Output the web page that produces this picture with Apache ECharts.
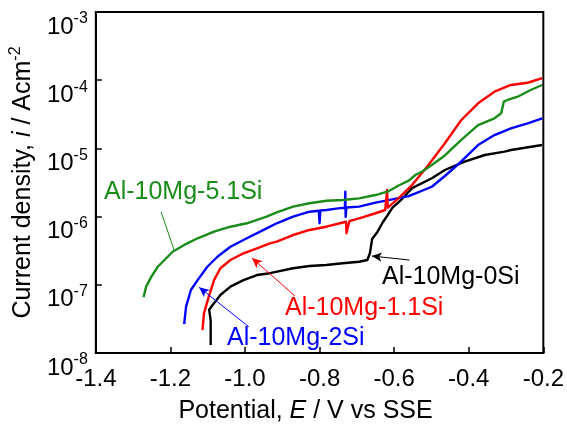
<!DOCTYPE html>
<html>
<head>
<meta charset="utf-8">
<script src="https://cdn.jsdelivr.net/npm/echarts@6/dist/echarts.min.js"></script>
<style>
  html, body { margin: 0; padding: 0; background: #fff; }
  #chart { width: 567px; height: 430px; }
</style>
</head>
<body>
<div id="chart"></div>
<script>
// Potentiodynamic polarization curves of Al-10Mg-xSi alloys
// Potential E (V vs SSE) and current density i (A/cm^2)

const xTicks = [-1.4, -1.2, -1.0, -0.8, -0.6, -0.4, -0.2];
const yTickExponents = [-8, -7, -6, -5, -4, -3];

// Al-10Mg-0Si
const E_0Si = [-1.092, -1.092, -1.096, -1.090, -1.083, -1.066, -1.039, -1.004, -0.968, -0.933,
  -0.871, -0.827, -0.782, -0.738, -0.694, -0.672, -0.665, -0.659, -0.645, -0.630,
  -0.619, -0.605, -0.579, -0.552, -0.499, -0.464, -0.411, -0.357, -0.304, -0.287, -0.203];
const i_0Si = [1.31e-8, 3.0e-8, 4.3e-8, 4.8e-8, 5.36e-8, 7.08e-8, 9.38e-8, 1.17e-7, 1.39e-7, 1.48e-7,
  1.75e-7, 1.89e-7, 1.95e-7, 2.07e-7, 2.18e-7, 2.31e-7, 2.90e-7, 4.70e-7, 5.94e-7, 8.34e-7,
  1.02e-6, 1.34e-6, 1.81e-6, 2.62e-6, 3.65e-6, 4.82e-6, 6.38e-6, 8.00e-6, 8.95e-6, 9.48e-6, 1.12e-5];

// Al-10Mg-1.1Si
const E_11Si = [-1.114, -1.110, -1.097, -1.083, -1.066, -1.039, -1.004, -0.968, -0.933, -0.915,
  -0.871, -0.827, -0.782, -0.729, -0.728, -0.726, -0.723, -0.720, -0.694, -0.650,
  -0.624, -0.620, -0.619, -0.617, -0.588, -0.552, -0.508, -0.464, -0.420, -0.375,
  -0.331, -0.287, -0.242, -0.203];
const i_11Si = [2.17e-8, 3.82e-8, 6.70e-8, 1.17e-7, 1.75e-7, 2.31e-7, 2.90e-7, 3.43e-7, 4.06e-7, 4.29e-7,
  5.37e-7, 6.37e-7, 7.11e-7, 8.41e-7, 5.7e-7, 6.0e-7, 5.8e-7, 8.6e-7, 9.44e-7, 1.12e-6,
  1.25e-6, 1.27e-6, 2.45e-6, 1.35e-6, 1.87e-6, 2.90e-6, 5.71e-6, 1.19e-5, 2.61e-5, 4.58e-5,
  6.78e-5, 8.51e-5, 9.18e-5, 1.07e-4];

// Al-10Mg-2Si
const E_2Si = [-1.163, -1.158, -1.145, -1.127, -1.101, -1.074, -1.039, -0.995, -0.942, -0.915,
  -0.871, -0.827, -0.802, -0.800, -0.798, -0.782, -0.760, -0.745, -0.732, -0.731,
  -0.730, -0.728, -0.694, -0.650, -0.605, -0.561, -0.499, -0.464, -0.420, -0.375,
  -0.331, -0.287, -0.242, -0.203];
const i_2Si = [2.66e-8, 4.78e-8, 8.39e-8, 1.17e-7, 1.84e-7, 2.58e-7, 3.62e-7, 4.81e-7, 6.73e-7, 7.98e-7,
  9.97e-7, 1.18e-6, 1.22e-6, 7.98e-7, 1.23e-6, 1.25e-6, 1.30e-6, 1.33e-6, 1.35e-6, 2.32e-6,
  9.9e-7, 1.36e-6, 1.40e-6, 1.60e-6, 1.79e-6, 2.0e-6, 2.74e-6, 3.94e-6, 6.43e-6, 1.12e-5,
  1.57e-5, 1.97e-5, 2.33e-5, 2.76e-5];

// Al-10Mg-5.1Si
const E_51Si = [-1.272, -1.265, -1.251, -1.234, -1.216, -1.194, -1.163, -1.127, -1.083, -1.039,
  -0.995, -0.942, -0.915, -0.871, -0.827, -0.782, -0.738, -0.694, -0.650, -0.614,
  -0.588, -0.561, -0.543, -0.526, -0.499, -0.464, -0.420, -0.375, -0.331, -0.313,
  -0.306, -0.296, -0.269, -0.234, -0.203];
const i_51Si = [6.6e-8, 9.4e-8, 1.32e-7, 1.84e-7, 2.31e-7, 3.05e-7, 3.84e-7, 4.81e-7, 6.01e-7, 7.11e-7,
  7.98e-7, 1.0e-6, 1.15e-6, 1.40e-6, 1.57e-6, 1.71e-6, 1.75e-6, 1.85e-6, 2.07e-6, 2.37e-6,
  2.86e-6, 3.36e-6, 4.07e-6, 4.55e-6, 5.71e-6, 7.87e-6, 1.33e-5, 2.20e-5, 2.76e-5, 3.27e-5,
  4.84e-5, 5.13e-5, 5.73e-5, 7.18e-5, 8.51e-5];

// Leader lines from each label to its curve: [E start, i start, E end, i end]
const leader_0Si = [-0.559, 2.31e-7, -0.660, 2.64e-7];
const leader_11Si = [-0.866, 6.85e-8, -0.981, 2.47e-7];
const leader_2Si = [-0.990, 2.43e-8, -1.123, 9.18e-8];
const leader_51Si = [-1.225, 1.17e-6, -1.190, 3.24e-7];

const FONT = '"Liberation Sans", Arial, sans-serif';
const C_BLACK = '#000000', C_RED = '#ff0000', C_BLUE = '#0000ff', C_GREEN = '#1a8c1a';

function zip(xs, ys) { return xs.map((x, k) => [x, ys[k]]); }

function leader(seg, color, arrow) {
  return {
    silent: true,
    symbol: arrow ? ['none', 'arrow'] : ['none', 'none'],
    symbolSize: [7, 10],
    label: { show: false },
    lineStyle: { color: color, width: 1, type: 'solid' },
    emphasis: { disabled: true },
    data: [[{ coord: [seg[0], seg[1]] }, { coord: [seg[2], seg[3]] }]]
  };
}

function curve(name, xs, ys, color, seg, arrow) {
  return {
    name: name,
    type: 'line',
    data: zip(xs, ys),
    showSymbol: false,
    symbol: 'none',
    animation: false,
    lineStyle: { color: color, width: 2.4, join: 'round' },
    itemStyle: { color: color },
    markLine: leader(seg, color, arrow)
  };
}

const chart = echarts.init(document.getElementById('chart'), null, { renderer: 'canvas' });

chart.setOption({
  animation: false,
  backgroundColor: '#ffffff',
  grid: {
    left: 94, right: 21, top: 12, bottom: 77,
    show: true, borderColor: '#000', borderWidth: 2, backgroundColor: 'transparent'
  },
  xAxis: {
    type: 'value',
    min: xTicks[0], max: xTicks[xTicks.length - 1], interval: 0.2,
    axisLine: { show: true, onZero: false, lineStyle: { color: '#000', width: 2 } },
    axisTick: { show: true, inside: true, length: 6, lineStyle: { color: '#000', width: 1.5 } },
    splitLine: { show: false },
    axisLabel: {
      color: '#000', fontFamily: FONT, fontSize: 24, margin: 14,
      formatter: v => v.toFixed(1)
    },
    name: '{n|Potential, }{it|E}{n| / V vs SSE}',
    nameLocation: 'middle',
    nameGap: 46,
    nameTextStyle: {
      padding: [0, 28, 0, 0],
      rich: {
        n: { fontFamily: FONT, fontSize: 25, color: '#000' },
        it: { fontFamily: FONT, fontSize: 25, color: '#000', fontStyle: 'italic' }
      }
    }
  },
  yAxis: {
    type: 'log',
    logBase: 10,
    min: Math.pow(10, yTickExponents[0]),
    max: Math.pow(10, yTickExponents[yTickExponents.length - 1]),
    splitNumber: yTickExponents.length - 1,
    axisLine: { show: true, onZero: false, lineStyle: { color: '#000', width: 2 } },
    axisTick: { show: true, inside: true, length: 6, lineStyle: { color: '#000', width: 1.5 } },
    minorTick: { show: false },
    splitLine: { show: false },
    axisLabel: {
      margin: 8,
      verticalAlign: 'top',
      padding: [-1, 0, 0, 0],
      formatter: v => '{b|10}{s|' + Math.round(Math.log10(v)) + '}',
      rich: {
        b: { fontFamily: FONT, fontSize: 24, color: '#000', lineHeight: 28, verticalAlign: 'bottom' },
        s: { fontFamily: FONT, fontSize: 16, color: '#000', lineHeight: 16, verticalAlign: 'top' }
      }
    },
    name: '{n|Current density, }{it|i}{n| / Acm}{s|-2}',
    nameLocation: 'middle',
    nameRotate: 90,
    nameGap: 58,
    nameTextStyle: {
      rich: {
        n: { fontFamily: FONT, fontSize: 25, color: '#000', lineHeight: 28, verticalAlign: 'bottom' },
        it: { fontFamily: FONT, fontSize: 25, color: '#000', fontStyle: 'italic', lineHeight: 28, verticalAlign: 'bottom' },
        s: { fontFamily: FONT, fontSize: 16, color: '#000', lineHeight: 16, verticalAlign: 'top' }
      }
    }
  },
  series: [
    curve('Al-10Mg-0Si', E_0Si, i_0Si, C_BLACK, leader_0Si, true),
    curve('Al-10Mg-2Si', E_2Si, i_2Si, C_BLUE, leader_2Si, true),
    curve('Al-10Mg-1.1Si', E_11Si, i_11Si, C_RED, leader_11Si, true),
    curve('Al-10Mg-5.1Si', E_51Si, i_51Si, C_GREEN, leader_51Si, false)
  ],
  graphic: [
    { type: 'text', left: 104, top: 180, silent: true,
      style: { text: 'Al-10Mg-5.1Si', font: '25px ' + FONT, fill: C_GREEN } },
    { type: 'text', left: 382, top: 265, silent: true,
      style: { text: 'Al-10Mg-0Si', font: '25px ' + FONT, fill: C_BLACK } },
    { type: 'text', left: 285, top: 296, silent: true,
      style: { text: 'Al-10Mg-1.1Si', font: '25px ' + FONT, fill: C_RED } },
    { type: 'text', left: 227, top: 326, silent: true,
      style: { text: 'Al-10Mg-2Si', font: '25px ' + FONT, fill: C_BLUE } }
  ]
});
</script>
</body>
</html>
